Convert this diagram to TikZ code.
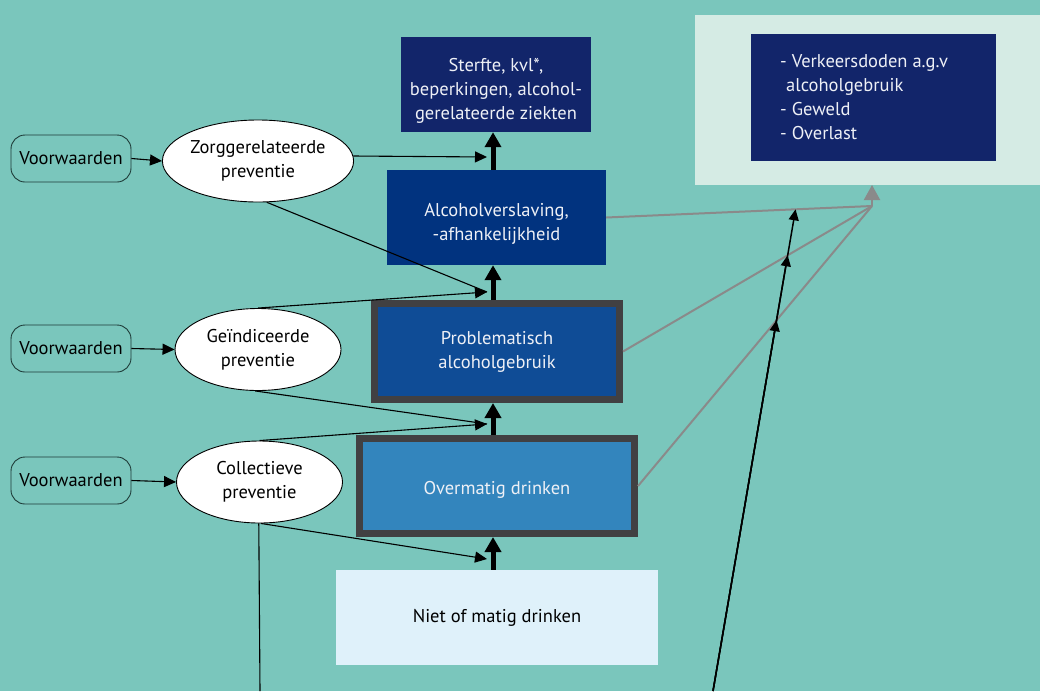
\documentclass[tikz,border=0pt]{standalone}
\usepackage{fontspec}
\setmainfont{PT Sans}
\usetikzlibrary{arrows.meta,shapes.geometric,intersections}
\definecolor{bg}{HTML}{7AC6BC}
\definecolor{panel}{HTML}{D5EBE4}
\definecolor{navy}{HTML}{12256A}
\definecolor{blueA}{HTML}{01337F}
\definecolor{blueB}{HTML}{0F4C96}
\definecolor{blueC}{HTML}{3385BD}
\definecolor{paleblue}{HTML}{DFF1FA}
\definecolor{frame}{HTML}{414042}
\definecolor{grayline}{HTML}{8A8A8A}
\definecolor{txtwhite}{HTML}{EEF0F6}
\definecolor{vwline}{HTML}{1E3B38}
\begin{document}
\begin{tikzpicture}[x=1pt,y=-1pt,
  basefont/.style={font=\fontsize{18.5}{24}\selectfont},
  box/.style={basefont,inner sep=0pt,align=center,text=txtwhite},
  framed/.style={box,draw=frame,line width=7pt},
  boxtext/.style={basefont,inner sep=0pt,align=center,text=txtwhite},
  vw/.style={basefont,draw=vwline,line width=0.9pt,rounded corners=14pt,minimum width=120pt,minimum height=47pt,inner sep=0pt},
  prev/.style={basefont,ellipse,draw=black,line width=0.9pt,fill=white,minimum width=166pt,minimum height=82pt,inner sep=0pt,align=center},
  thick/.style={line width=5pt,-{Triangle[width=16pt,length=15pt]}},
  thin/.style={line width=1.1pt,-{Triangle[width=11pt,length=12pt]}},
  plain/.style={line width=1.1pt},
  grayl/.style={draw=grayline,line width=2pt},
  grayarrow/.style={draw=grayline,line width=2pt,-{Triangle[width=16pt,length=15pt]}},
  blk/.style={line width=1.5pt,-{Triangle[width=10pt,length=11pt]}}
]
\useasboundingbox (0,0) rectangle (1040,691);
\fill[bg] (0,0) rectangle (1040,691);
\fill[panel] (695,15) rectangle (1040,185);

% main column
\node[box,fill=navy,minimum width=190pt,minimum height=95pt] (S) at (496,84.5) {};
\node[boxtext] (St) at (496,91) {Sterfte, kvl*,\\beperkingen, alcohol-\\gerelateerde ziekten};
\node[box,fill=blueA,minimum width=219pt,minimum height=95pt] (A) at (496.5,217.5) {};
\node[boxtext] (At) at (496.5,224) {Alcoholverslaving,\\-afhankelijkheid};
\node[framed,fill=blueB,minimum width=245pt,minimum height=96pt] (P) at (497,351.5)
  {Problematisch\\alcoholgebruik};
\node[framed,fill=blueC,minimum width=275pt,minimum height=95pt] (O) at (497,486) {};
\node[boxtext] (Ot) at (497,490) {Overmatig drinken};
\node[box,fill=paleblue,text=black,minimum width=322pt,minimum height=95pt] (N) at (497,617.5)
  {Niet of matig drinken};

% right box
\node[box,fill=navy,minimum width=245pt,minimum height=127pt] (R) at (873.5,97.5) {};
\node[basefont,text=txtwhite,align=left,anchor=north west,inner sep=0pt] (Rt) at (780,54)
  {- Verkeersdoden a.g.v\\\hspace*{6pt}alcoholgebruik\\- Geweld\\- Overlast};

% left column
\node[vw] (V1) at (71,158.5) {Voorwaarden};
\node[vw] (V2) at (71,348.5) {Voorwaarden};
\node[vw] (V3) at (71,480.5) {Voorwaarden};
\node[prev] (Z) at (258,161) {Zorggerelateerde\\preventie};
\node[prev] (G) at (258,349.5) {Geïndiceerde\\preventie};
\node[prev] (C) at (259.5,482) {Collectieve\\preventie};

\draw[thin] (V1.east) -- (Z.west);
\draw[thin] (V2.east) -- (G.west);
\draw[thin] (V3.east) -- (C.west);

% thick arrows
\draw[thick] (A.north -| 493,0) -- (S.south -| 493,0);
\draw[thick] (P.north -| 493,0) -- (A.south -| 493,0);
\draw[thick] (O.north -| 493,0) -- (P.south -| 493,0);
\draw[thick] (N.north -| 493,0) -- (O.south -| 493,0);

% junction points
\coordinate (j0) at (487,157);
\coordinate (j1) at (487,292);
\coordinate (j2) at (487,424);
\coordinate (j3) at (487,559);
\draw[thin] (Z.3) -- (j0);
\draw[plain] (Z.-78) -- (j1);
\draw[thin] (G.north) -- (j1);
\draw[plain] (G.-94) -- (j2);
\draw[thin] (C.north) -- (j2);
\draw[thin] (C.-88) -- (j3);
\coordinate (cb) at (260,691);
\draw[plain] (C.-91) -- (cb);

% gray lines to right box
\coordinate (conv) at (872,206);
\coordinate (convtip) at (872,185);
\draw[grayl,name path=g1] (A.east) -- (conv);
\draw[grayl,name path=g2] (P.east) -- (conv);
\draw[grayl,name path=g3] (O.east) -- (conv);
\draw[grayarrow] (conv) -- (convtip);

% long black line with three arrowheads
\coordinate (bot) at (713,691);
\coordinate (topb) at (798,195);
\path[name path=bl] (bot) -- (topb);
\path[name intersections={of=bl and g1,by=i1}];
\path[name intersections={of=bl and g2,by=i2}];
\path[name intersections={of=bl and g3,by=i3}];
\draw[blk] (bot) -- (i1);
\draw[blk] (bot) -- (i2);
\draw[blk] (bot) -- (i3);
\end{tikzpicture}
\end{document}
